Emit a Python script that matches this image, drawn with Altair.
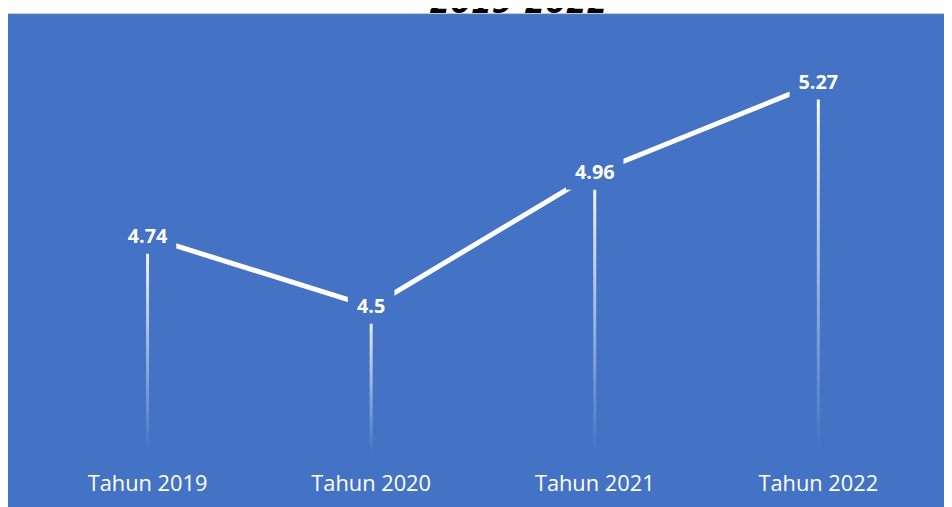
import altair as alt
import pandas as pd

categories = ["Tahun 2019", "Tahun 2020", "Tahun 2021", "Tahun 2022"]
values = [4.74, 4.5, 4.96, 5.27]
labels = ["4.74", "4.5", "4.96", "5.27"]
title_text = "2019-2022"

BLUE = "#4472C4"
FONT = "Open Sans"

df = pd.DataFrame({"cat": categories, "val": values, "lab": labels})
df["boxw"] = [14 + 11 * len(s) for s in labels]

W, H = 902, 411
PAD = {"left": 28, "top": 35, "right": 14, "bottom": 53}

x = alt.X("cat:N", sort=categories,
          scale=alt.Scale(paddingInner=0, paddingOuter=0),
          axis=alt.Axis(title=None, labelAngle=0, labelColor="white", labelFont=FONT,
                        labelFontSize=22, domain=False, ticks=False, tickSize=0,
                        grid=False, labelPadding=38, labelBaseline="alphabetic"))
y = alt.Y("val:Q", scale=alt.Scale(domain=[4.0, 5.4], zero=False, nice=False), axis=None)

base = alt.Chart(df)

one = pd.DataFrame({"k": [0]})
white_band = alt.Chart(one).mark_rect(color="white").encode(
    x=alt.value(-PAD["left"] - 10), x2=alt.value(W + PAD["right"] + 10),
    y=alt.value(-PAD["top"] - 10), y2=alt.value(-PAD["top"] + 3.5))
gray_line = alt.Chart(one).mark_rule(color="#c8c8c8", strokeWidth=1).encode(
    x=alt.value(-PAD["left"]), x2=alt.value(W + PAD["right"]),
    y=alt.value(-PAD["top"] + 3.5))
title = alt.Chart(pd.DataFrame({"t": [title_text]})).mark_text(
    font="DejaVu Sans", fontWeight="bold", fontStyle="italic", fontSize=30,
    color="black", baseline="alphabetic", align="center").encode(
    x=alt.value(487), y=alt.value(-PAD["top"] + 2.5), text="t:N")

gradient = {"gradient": "linear", "x1": 0, "x2": 0, "y1": 0, "y2": 1,
            "stops": [{"offset": 0, "color": "white"}, {"offset": 1, "color": BLUE}]}
drops = base.mark_bar(fill=gradient, size=3).encode(x=x, y=y, y2=alt.datum(4.0))

line = base.mark_line(color="white", strokeWidth=5, strokeCap="butt").encode(x=x, y=y)

boxes = base.mark_tick(orient="horizontal", thickness=34, color=BLUE, opacity=1).encode(
    x=x, y=y, size=alt.Size("boxw:Q", scale=None, legend=None))

texts = base.mark_text(color="white", font=FONT, fontWeight="bold", fontSize=20,
                       baseline="middle", align="center").encode(x=x, y=y, text="lab:N")

chart = alt.layer(white_band, gray_line, title, drops, line, boxes, texts).properties(
    width=W, height=H, padding=PAD, autosize=alt.AutoSizeParams(type="none"),
    background=BLUE
).configure_view(stroke=None)

chart.save("out.html", embed_options={"renderer": "svg", "actions": False})
